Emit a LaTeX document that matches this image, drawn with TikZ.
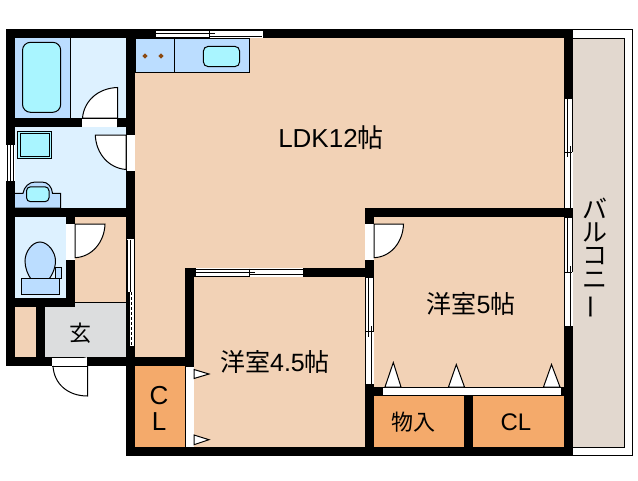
\documentclass[tikz,border=0pt]{standalone}
\usepackage{fontspec}
\setmainfont{Liberation Sans}
\newfontfamily\jpf{Noto Sans CJK JP}
\definecolor{peach}{HTML}{F2D2B6}
\definecolor{pale}{HTML}{DDF1FF}
\definecolor{midb}{HTML}{BBDDFF}
\definecolor{cyanb}{HTML}{A9F5FF}
\definecolor{closet}{HTML}{F4AA6B}
\definecolor{balc}{HTML}{E2D8CF}
\definecolor{genk}{HTML}{DCDDDE}
\definecolor{knob}{HTML}{8B4A12}
\newcommand{\lat}[2]{{\fontspec{Liberation Sans}\fontsize{#1}{#1}\selectfont #2}}
\tikzset{
  wall/.style={fill=black,draw=none},
  ln/.style={draw=black,line width=1pt},
  wht/.style={fill=white,draw=none},
  fix/.style={ln,fill=#1},
  lbl/.style={inner sep=0pt,font=\jpf\fontsize{25}{25}\selectfont},
  sm/.style={inner sep=0pt,font=\jpf\fontsize{22}{22}\selectfont},
}
\begin{document}
\begin{tikzpicture}[x=1pt,y=-1pt]
\useasboundingbox (0,0) rectangle (638,480);
% floors
\fill[peach] (135,38) rectangle (565,447);
\fill[pale] (15,38) rectangle (127,208);
\fill[midb] (15,38) rectangle (70.7,118);
\fill[pale] (15,217) rectangle (66,298);
\fill[peach] (75,217) rectangle (127,303);
\fill[genk] (45,302.5) rectangle (127,358);
\fill[peach] (15,307) rectangle (36,358);
\fill[closet] (135,366) rectangle (186,448);
\fill[closet] (374,395) rectangle (565,448);
% balcony
\draw[ln,fill=white] (573,29.5) -- (632.7,29.5) -- (632.7,455.5) -- (573,455.5);
\draw[ln,fill=balc] (573,38) -- (624.3,38) -- (624.3,447.3) -- (573,447.3);
% fixtures
\draw[fix=midb] (135,38) rectangle (249.7,72.3);
\draw[ln] (174.3,38) -- (174.3,72.3);
\fill[knob] (145,53.4) -- (147.6,56) -- (145,58.6) -- (142.4,56) -- cycle;
\fill[knob] (161,53.4) -- (163.6,56) -- (161,58.6) -- (158.4,56) -- cycle;
\draw[fix=cyanb,rounded corners=5pt] (203.3,46.3) rectangle (239.7,66.7);
\draw[ln] (70.7,38) -- (70.7,118);
\draw[fix=cyanb,rounded corners=8pt] (22.5,42.3) rectangle (60.7,112.3);
\draw[fix=cyanb] (17.3,131.3) rectangle (51.7,158.7);
\draw[ln] (20.3,133.3) rectangle (49.7,156.7);
\draw[fix=midb] (15,193.3) -- (23,193.3) .. controls (24,187) and (29,182) .. (35,182) -- (42,182) .. controls (48,182) and (52,187) .. (52.5,193.3) -- (60.5,193.3) -- (60.5,208) -- (15,208);
\draw[fix=cyanb,rounded corners=4pt] (26.5,186.8) rectangle (49,201.7);
\draw[fix=midb] (40,242) .. controls (48,242) and (55.5,252) .. (55.5,261) .. controls (55.5,270) and (50,278) .. (49,279) -- (31,279) .. controls (28,275) and (25,268) .. (25,261) .. controls (25,252) and (32,242) .. (40,242) -- cycle;
\draw[fix=midb] (55,267.5) rectangle (61.7,278.3);
\draw[fix=midb] (21.5,278.3) rectangle (59.7,294.7);
\draw[ln] (75,302.3) -- (126,302.3);
% walls
\fill[wall] (6,29) rectangle (573,38);
\fill[wall] (6,29) rectangle (15,366);
\fill[wall] (126,29) rectangle (135,456);
\fill[wall] (6,118) rectangle (135,127);
\fill[wall] (6,208) rectangle (135,217);
\fill[wall] (66,208) rectangle (75,307);
\fill[wall] (6,298) rectangle (75,307);
\fill[wall] (36,298) rectangle (45,366);
\fill[wall] (6,357) rectangle (194,366);
\fill[wall] (185,268) rectangle (194,366);
\fill[wall] (185,268) rectangle (374,277);
\fill[wall] (365,208) rectangle (374,456);
\fill[wall] (365,208) rectangle (573,217);
\fill[wall] (564,29) rectangle (573,456);
\fill[wall] (126,447) rectangle (573,456);
\fill[wall] (464,387) rectangle (473,456);
\fill[wall] (185,366) rectangle (194,456);
\fill[wall] (374,387) rectangle (564,396);
% top window
\fill[wht] (156,29.5) rectangle (263,38);
\draw[ln] (156,30.7) -- (263,30.7) (156,33.3) -- (215,33.3) (209.5,36) -- (262,36) (156,37.4) -- (209.5,37.4) (209.5,29.5) -- (209.5,37.5);
% left window
\fill[wht] (6,145) rectangle (15,180.7);
\draw[ln] (7,145) -- (7,180.7) (10,145) -- (10,180.7) (13.6,145) -- (13.6,180.7);
% 4.5 room window
\fill[wht] (196,268) rectangle (303,277);
\draw[ln] (196,269) -- (303,269) (196,272) -- (255,272) (249,274.5) -- (303,274.5) (196,276.2) -- (249,276.2) (249.5,268.5) -- (249.5,276.5);
% right windows
\fill[wht] (564,99.3) rectangle (573,208);
\draw[ln] (564.6,99.3) -- (564.6,208) (567.5,99.3) -- (567.5,157) (570,146) -- (570,208) (572,99.3) -- (572,152) (564,152) -- (572,152);
\fill[wht] (564,218.3) rectangle (573,325.7);
\draw[ln] (564.6,218.3) -- (564.6,325.7) (567.5,218.3) -- (567.5,272) (570,266) -- (570,325.7) (572,218.3) -- (572,272) (564,272) -- (572,272);
% 374 window
\fill[wht] (365.5,278.3) rectangle (373.5,384.3);
\draw[ln] (365.7,278.3) -- (365.7,384.3) (368.5,278.3) -- (368.5,337) (371,326) -- (371,384.3) (373,278.3) -- (373,332) (365,331) -- (373,331);
% sliding door by genkan
\fill[wht] (127,239) rectangle (134,346);
\draw[ln] (127,239.5) -- (127,346) (130,239.5) -- (130,292) (134,239.5) -- (134,346);
\fill[wall] (126.5,292) rectangle (129.5,346);
\draw[ln,densely dashed] (131.5,292) -- (131.5,346);
% doors
\fill[wht] (82,118) rectangle (118,127);
\draw[ln,fill=white] (117.7,127) -- (117.7,87.5) .. controls (98,88) and (84,101) .. (82.5,118) -- (117.7,118);
\draw[ln] (82,118) -- (118,118);
\fill[wht] (126.5,135) rectangle (135,171);
\draw[ln,fill=white] (126,135) -- (95.3,135) .. controls (96,153) and (108,168) .. (126,169.5) -- cycle;
\fill[wht] (66,224) rectangle (75,260);
\draw[ln,fill=white] (75,224) -- (105,224) .. controls (104.5,242) and (92,257) .. (75,257.7) -- cycle;
\fill[wht] (52,357.5) rectangle (88,366);
\draw[ln,fill=white] (53,366) .. controls (54,384) and (68,396) .. (87.5,396) -- (87.5,357);
\draw[ln] (52,366) -- (87.5,366);
\fill[wht] (365,224) rectangle (374,260);
\draw[ln,fill=white] (374,224) -- (403.5,224) .. controls (403,242) and (391,257) .. (374,257.7) -- cycle;
% closet doors
\fill[wht] (186,366.7) rectangle (193.5,447);
\draw[ln] (185.3,366.7) -- (185.3,447);
\draw[ln,fill=white] (194,369.5) -- (209,374) -- (194,378.5) -- cycle;
\draw[ln,fill=white] (194,435) -- (209,439.7) -- (194,444.7) -- cycle;
\fill[wht] (383,387.5) rectangle (561.7,395.5);
\draw[ln] (383,387.3) -- (561.7,387.3) -- (561.7,395.5) (383,395.5) -- (561.7,395.5);
\draw[ln,fill=white] (385,387) -- (393.3,362.5) -- (401,387) -- cycle;
\draw[ln,fill=white] (448.5,387) -- (456.3,364.5) -- (464.5,387) -- cycle;
\draw[ln,fill=white] (543.5,387) -- (551.5,364.5) -- (560,387) -- cycle;
% labels
\node[lbl] (ldk) at (331,138) {\lat{26}{LDK12}{\fontsize{26}{26}\selectfont 帖}};
\node[lbl] (r5) at (471,304) {洋室\lat{25}{5}帖};
\node[lbl] (r45) at (275,362) {洋室\lat{25}{4.5}帖};
\node[sm] (gen) at (80,333) {玄};
\node[lbl,font=\fontsize{26}{26}\selectfont] (c1) at (159,396) {C};
\node[lbl,font=\fontsize{26}{26}\selectfont] (c2) at (159,422) {L};
\node[sm] (mono) at (413,422) {物入};
\node[lbl,font=\fontsize{24}{24}\selectfont] (cl) at (516,422) {CL};
\node[lbl] (b1) at (595,208) {バ};
\node[lbl] (b2) at (595,232) {ル};
\node[lbl] (b3) at (595,256) {コ};
\node[lbl] (b4) at (595,280) {ニ};
\node[lbl,rotate=90] (b5) at (595,307) {ー};
\end{tikzpicture}
\end{document}
